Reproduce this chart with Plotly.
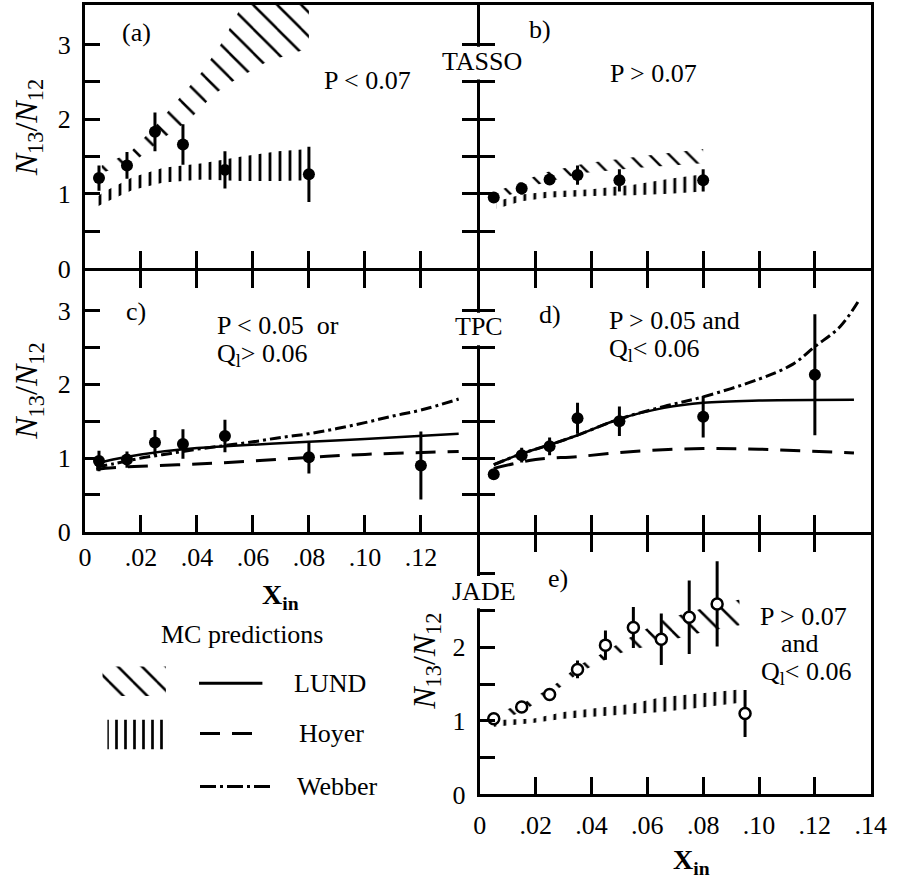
import plotly.graph_objects as go

W, H = 914, 891

# ---------------- data ----------------
XT = [0, 0.02, 0.04, 0.06, 0.08, 0.10, 0.12, 0.14]
XT_TEXT_C = ["0", ".02", ".04", ".06", ".08", ".10", ".12", ""]
XT_TEXT_E = ["0", ".02", ".04", ".06", ".08", ".10", ".12", ".14"]
YT = [0, 0.5, 1, 1.5, 2, 2.5, 3]
YT_TEXT = ["0", "", "1", "", "2", "", "3"]
YT_TEXT_E = ["0", "", "1", "", "2", "", ""]

# (a) TASSO, P < 0.07
a_x = [0.005, 0.015, 0.025, 0.035, 0.05, 0.08]
a_y = [1.21, 1.38, 1.83, 1.66, 1.32, 1.26]
a_err = [0.17, 0.18, 0.26, 0.27, 0.25, 0.37]
a_lund_lo_x = [0.006, 0.017, 0.027, 0.037, 0.046, 0.053, 0.065, 0.08]
a_lund_lo_y = [1.28, 1.41, 1.72, 1.98, 2.33, 2.51, 2.77, 2.95]
a_lund_hi_x = [0.006, 0.016, 0.025, 0.033, 0.042, 0.049, 0.055, 0.08]
a_lund_hi_y = [1.38, 1.55, 1.90, 2.25, 2.64, 3.03, 3.45, 4.30]
a_hoy_x = [0.004, 0.007, 0.017, 0.028, 0.042, 0.056, 0.069, 0.08]
a_hoy_lo = [0.82, 0.88, 1.05, 1.15, 1.19, 1.17, 1.17, 1.18]
a_hoy_hi = [0.95, 1.03, 1.22, 1.35, 1.41, 1.50, 1.57, 1.60]

# (b) TASSO, P > 0.07
b_x = [0.005, 0.015, 0.025, 0.035, 0.05, 0.08]
b_y = [0.95, 1.07, 1.19, 1.25, 1.18, 1.18]
b_err = [0.03, 0.08, 0.06, 0.13, 0.15, 0.15]
b_lund_x = [0.008, 0.023, 0.038, 0.057, 0.08]
b_lund_lo = [0.95, 1.15, 1.28, 1.35, 1.41]
b_lund_hi = [1.06, 1.28, 1.41, 1.50, 1.60]
b_hoy_x = [0.006, 0.015, 0.025, 0.04, 0.055, 0.068, 0.08]
b_hoy_lo = [0.80, 0.90, 0.95, 0.97, 0.98, 1.00, 1.03]
b_hoy_hi = [0.90, 0.99, 1.03, 1.06, 1.12, 1.20, 1.26]

# (c) TPC, P < 0.05 or Q1 > 0.06
c_x = [0.005, 0.015, 0.025, 0.035, 0.05, 0.08, 0.12]
c_y = [0.96, 0.98, 1.21, 1.19, 1.30, 1.01, 0.90]
c_err = [0.14, 0.11, 0.17, 0.20, 0.22, 0.22, 0.46]
c_lund_x = [0.004, 0.01, 0.02, 0.035, 0.05, 0.08, 0.10, 0.1335]
c_lund_y = [0.92, 0.98, 1.05, 1.12, 1.16, 1.22, 1.26, 1.33]
c_hoy_x = [0.004, 0.01, 0.02, 0.04, 0.06, 0.08, 0.10, 0.1335]
c_hoy_y = [0.85, 0.87, 0.89, 0.92, 0.96, 1.01, 1.05, 1.09]
c_web_x = [0.004, 0.01, 0.02, 0.03, 0.04, 0.05, 0.06, 0.07, 0.08, 0.09, 0.10, 0.11, 0.12, 0.1335]
c_web_y = [0.88, 0.92, 1.00, 1.06, 1.12, 1.17, 1.22, 1.28, 1.33, 1.40, 1.48, 1.57, 1.65, 1.80]

# (d) TPC, P > 0.05 and Q1 < 0.06
d_x = [0.005, 0.015, 0.025, 0.035, 0.05, 0.08, 0.12]
d_y = [0.78, 1.04, 1.16, 1.54, 1.50, 1.56, 2.13]
d_err = [0.06, 0.10, 0.12, 0.21, 0.20, 0.28, 0.82]
d_lund_x = [0.005, 0.015, 0.025, 0.035, 0.05, 0.066, 0.08, 0.10, 0.134]
d_lund_y = [0.91, 1.06, 1.18, 1.31, 1.53, 1.68, 1.75, 1.78, 1.79]
d_hoy_x = [0.005, 0.02, 0.035, 0.055, 0.08, 0.10, 0.134]
d_hoy_y = [0.86, 0.98, 1.02, 1.09, 1.13, 1.12, 1.07]
d_web_x = [0.005, 0.015, 0.025, 0.035, 0.05, 0.066, 0.08, 0.10, 0.112, 0.12, 0.129, 0.136]
d_web_y = [0.91, 1.06, 1.18, 1.31, 1.53, 1.70, 1.83, 2.07, 2.27, 2.51, 2.78, 3.15]

# (e) JADE, P > 0.07 and Q1 < 0.06
e_x = [0.005, 0.015, 0.025, 0.035, 0.045, 0.055, 0.065, 0.075, 0.085, 0.095]
e_y = [1.03, 1.19, 1.36, 1.70, 2.03, 2.27, 2.11, 2.41, 2.59, 1.10]
e_err = [0.03, 0.03, 0.03, 0.12, 0.20, 0.28, 0.35, 0.50, 0.58, 0.32]
e_lund_x = [0.006, 0.016, 0.023, 0.029, 0.035, 0.042, 0.051, 0.066, 0.079, 0.093]
e_lund_lo = [0.98, 1.14, 1.32, 1.46, 1.64, 1.78, 1.93, 2.08, 2.20, 2.30]
e_lund_hi = [1.10, 1.25, 1.40, 1.55, 1.75, 1.88, 2.08, 2.38, 2.52, 2.65]
e_hoy_x = [0.005, 0.019, 0.03, 0.042, 0.054, 0.065, 0.077, 0.089, 0.094]
e_hoy_lo = [0.92, 0.97, 1.03, 1.06, 1.10, 1.12, 1.17, 1.23, 1.25]
e_hoy_hi = [1.01, 1.03, 1.12, 1.17, 1.23, 1.32, 1.36, 1.41, 1.43]

# ---------------- layout geometry (pixels) ----------------
LW = 3  # frame line width
LEFT = (80, 482)
RIGHT = (485, 886)
ROWS = [(5, 273), (276, 541), (544, 808)]
LEG_BOX = (80, 440, 620, 820)  # x0, x1, y0, y1 of legend area
# legend key geometry inside the legend box (pixel units)
KEY_DIAG = ([98, 163, 163, 98, 98], [678, 678, 708, 708, 678])
KEY_VERT = ([103, 166, 166, 103, 103], [732, 732, 762, 762, 732])
KEY_LINES = {"solid": ([197, 262], [695, 695]),
             "dash": ([198, 253], [746, 746]),
             "dashdot": ([198, 270], [800, 800])}

SERIF = "Liberation Serif, Times New Roman, serif"
FONT = dict(family=SERIF, size=26, color="black")

HOYER_DASH = "20px,12px"
WEBBER_DASH = "11px,4px,3px,4px"


def xd(p0, p1):
    return [p0 / W, p1 / W]


def yd(p0, p1):
    return [1 - p1 / H, 1 - p0 / H]


fig = go.Figure()


def band(xs_lo, lo, xs_hi, hi, pat, ax):
    shape, size, solidity = pat
    xs = list(xs_lo) + list(xs_hi)[::-1]
    ys = list(lo) + list(hi)[::-1]
    fig.add_trace(go.Scatter(
        x=xs + [xs[0]], y=ys + [ys[0]], mode="lines", fill="toself",
        fillcolor="black", line=dict(width=0),
        fillpattern=dict(shape=shape, size=size, solidity=solidity, fgopacity=1,
                         fgcolor="black", bgcolor="rgba(255,255,255,0)"),
        xaxis="x" + ax, yaxis="y" + ax, hoverinfo="skip", showlegend=False))


def line(xs, ys, dash, ax, width=3):
    fig.add_trace(go.Scatter(x=xs, y=ys, mode="lines",
                             line=dict(color="black", width=width, dash=dash, shape="spline"),
                             xaxis="x" + ax, yaxis="y" + ax, showlegend=False))


def points(xs, ys, err, ax, open_=False):
    marker = dict(size=12, color="black", symbol="circle")
    if open_:
        marker = dict(size=11, color="white", symbol="circle",
                      line=dict(color="black", width=2.5))
    fig.add_trace(go.Scatter(x=xs, y=ys, mode="markers", marker=marker,
                             error_y=dict(type="data", array=err, thickness=3, width=0, color="black"),
                             xaxis="x" + ax, yaxis="y" + ax, showlegend=False))


DIAG = ("\\", 17, 0.15)
VERT = ("|", 10, 0.28)

# (a)
band(a_lund_lo_x, a_lund_lo_y, a_lund_hi_x, a_lund_hi_y, DIAG, "")
band(a_hoy_x, a_hoy_lo, a_hoy_x, a_hoy_hi, VERT, "")
points(a_x, a_y, a_err, "")
# (b)
band(b_lund_x, b_lund_lo, b_lund_x, b_lund_hi, ("\\", 14, 0.17), "2")
band(b_hoy_x, b_hoy_lo, b_hoy_x, b_hoy_hi, VERT, "2")
points(b_x, b_y, b_err, "2")
# (c)
line(c_lund_x, c_lund_y, "solid", "3", 2.5)
line(c_hoy_x, c_hoy_y, HOYER_DASH, "3")
line(c_web_x, c_web_y, WEBBER_DASH, "3")
points(c_x, c_y, c_err, "3")
# (d)
line(d_lund_x, d_lund_y, "solid", "4", 2.5)
line(d_hoy_x, d_hoy_y, HOYER_DASH, "4")
line(d_web_x, d_web_y, WEBBER_DASH, "4")
points(d_x, d_y, d_err, "4")
# (e)
band(e_lund_x, e_lund_lo, e_lund_x, e_lund_hi, DIAG, "5")
band(e_hoy_x, e_hoy_lo, e_hoy_x, e_hoy_hi, VERT, "5")
points(e_x, e_y, e_err, "5", open_=True)

# legend keys (axis 6 in pixel units)
for (kx, ky), pat in ((KEY_DIAG, DIAG), (KEY_VERT, ("|", 9, 0.3))):
    fig.add_trace(go.Scatter(
        x=kx, y=ky, mode="lines", fill="toself", fillcolor="black",
        line=dict(width=0),
        fillpattern=dict(shape=pat[0], size=pat[1], solidity=pat[2], fgopacity=1,
                         fgcolor="black", bgcolor="rgba(255,255,255,0)"),
        xaxis="x6", yaxis="y6", showlegend=False, hoverinfo="skip"))
for name, dash in (("solid", "solid"), ("dash", HOYER_DASH), ("dashdot", "16px,4px,3px,4px")):
    kx, ky = KEY_LINES[name]
    fig.add_trace(go.Scatter(x=kx, y=ky, mode="lines",
                             line=dict(color="black", width=3, dash=dash),
                             xaxis="x6", yaxis="y6", showlegend=False))

common_x = dict(range=[0, 0.14], tickvals=XT, ticks="inside", ticklen=17, tickwidth=3,
                tickcolor="black", showline=True, linewidth=LW, linecolor="black",
                showgrid=False, zeroline=False, tickfont=FONT, fixedrange=True)
common_y = dict(range=[0, 3.53], tickvals=YT, ticks="inside", ticklen=15, tickwidth=3,
                tickcolor="black", showline=True, linewidth=LW, linecolor="black",
                showgrid=False, zeroline=False, tickfont=FONT, fixedrange=True)

layout = dict(
    width=W, height=H, margin=dict(l=0, r=0, t=0, b=0),
    paper_bgcolor="white", plot_bgcolor="rgba(0,0,0,0)", showlegend=False,
    font=FONT,
    # (a)
    xaxis=dict(common_x, domain=xd(*LEFT), anchor="y", mirror=True, showticklabels=False),
    yaxis=dict(common_y, domain=yd(*ROWS[0]), anchor="x", mirror="ticks",
               ticktext=YT_TEXT, ticklabelstandoff=6),
    # (b)
    xaxis2=dict(common_x, domain=xd(*RIGHT), anchor="y2", mirror=True, showticklabels=False),
    yaxis2=dict(common_y, domain=yd(*ROWS[0]), anchor="x2", mirror=True, showticklabels=False),
    # (c)
    xaxis3=dict(common_x, domain=xd(*LEFT), anchor="y3", mirror="ticks",
                ticktext=XT_TEXT_C, ticklabelstandoff=0),
    yaxis3=dict(common_y, domain=yd(*ROWS[1]), anchor="x3", mirror="ticks",
                ticktext=YT_TEXT, ticklabelstandoff=6),
    # (d)
    xaxis4=dict(common_x, domain=xd(*RIGHT), anchor="y4", mirror="ticks", showticklabels=False),
    yaxis4=dict(common_y, domain=yd(*ROWS[1]), anchor="x4", mirror=True, showticklabels=False),
    # (e)
    xaxis5=dict(common_x, domain=xd(*RIGHT), anchor="y5", mirror="ticks",
                ticktext=XT_TEXT_E, ticklabelstandoff=5),
    yaxis5=dict(common_y, domain=yd(*ROWS[2]), anchor="x5", mirror=True,
                ticktext=YT_TEXT_E, ticklabelstandoff=6),
    # legend area
    xaxis6=dict(domain=xd(LEG_BOX[0], LEG_BOX[1]), range=[LEG_BOX[0], LEG_BOX[1]], visible=False,
                anchor="y6", fixedrange=True),
    yaxis6=dict(domain=yd(LEG_BOX[2], LEG_BOX[3]), range=[LEG_BOX[3], LEG_BOX[2]], visible=False,
                anchor="x6", fixedrange=True),
)
fig.update_layout(**layout)

# gaps in the shared vertical axis for experiment labels
shapes = []
for yref in ("y2", "y4", "y5"):
    shapes.append(dict(type="rect", xref="paper", yref=yref, x0=477 / W, x1=491 / W,
                       y0=2.53, y1=2.97, fillcolor="white", line=dict(width=0), layer="above"))
fig.update_layout(shapes=shapes)


def ann(text, x, y, xanchor="center", angle=0, size=26):
    return dict(text=text, x=x / W, y=1 - y / H, xref="paper", yref="paper",
                xanchor=xanchor, yanchor="middle", showarrow=False, textangle=angle,
                font=dict(family=SERIF, size=size, color="black"))


YTITLE = "<i>N</i><sub>13</sub>/<i>N</i><sub>12</sub>"
XTITLE = "<b>X<sub>in</sub></b>"
anns = [
    ann("(a)", 133, 33),
    ann("P &lt; 0.07", 370, 82),
    ann("TASSO", 487, 63),
    ann("b)", 547, 30),
    ann("P &gt; 0.07", 663, 75),
    ann("c)", 132, 317),
    ann("P &lt; 0.05  or", 213, 331, "left"),
    ann("Q<sub>l</sub>&gt; 0.06", 213, 361, "left"),
    ann("TPC", 484, 332),
    ann("d)", 557, 320),
    ann("P &gt; 0.05 and", 615, 326, "left"),
    ann("Q<sub>l</sub>&lt; 0.06", 615, 356, "left"),
    ann("JADE", 489, 602),
    ann("e)", 565, 588),
    ann("P &gt; 0.07", 770, 627, "left"),
    ann("and", 813, 655),
    ann("Q<sub>l</sub>&lt; 0.06", 771, 685, "left"),
    ann("MC predictions", 242, 645),
    ann("LUND", 292, 695, "left"),
    ann("Hoyer", 297, 746, "left"),
    ann("Webber", 295, 800, "left"),
    ann(XTITLE, 281, 607, size=28),
    ann(XTITLE, 702, 876, size=28),
    ann(YTITLE, 22, 130, angle=-90, size=32),
    ann(YTITLE, 22, 398, angle=-90, size=32),
    ann(YTITLE, 430, 673, angle=-90, size=32),
]
fig.update_layout(annotations=anns)

fig.write_html("out.html")
